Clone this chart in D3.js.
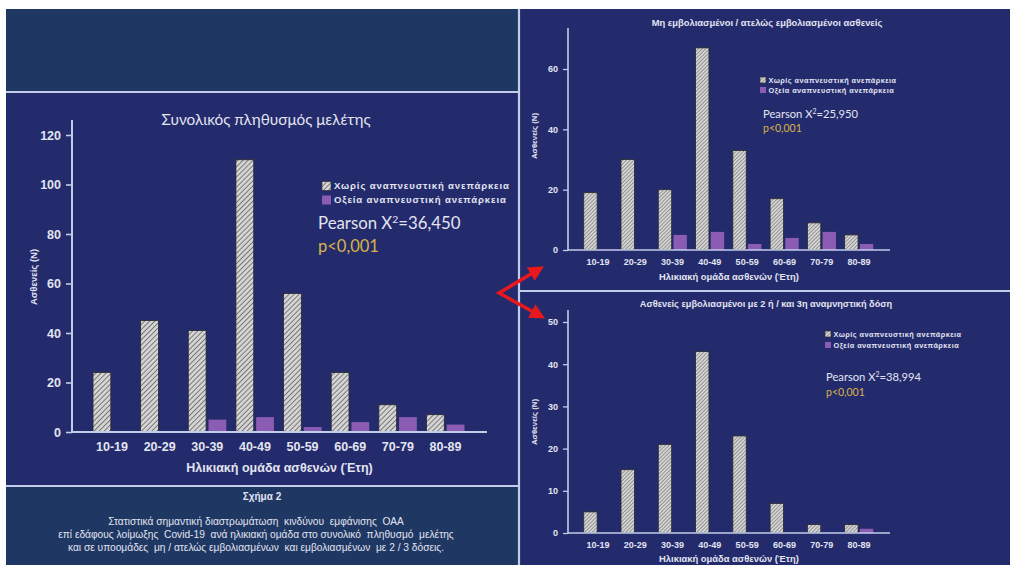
<!DOCTYPE html>
<html>
<head>
<meta charset="utf-8">
<script src="https://cdn.jsdelivr.net/npm/d3@7"></script>
<style>
  html, body { margin: 0; padding: 0; background: #ffffff; }
  svg { display: block; }
</style>
</head>
<body>
<svg id="fig" width="1010" height="565"></svg>
<script>
// Age groups (years)
const ageGroups = ["10-19", "20-29", "30-39", "40-49", "50-59", "60-69", "70-79", "80-89"];

// Series names
const seriesNames = ["Χωρίς αναπνευστική ανεπάρκεια", "Οξεία αναπνευστική ανεπάρκεια"];

// Whole study population
const totalNoFailure = [24, 45, 41, 110, 56, 24, 11, 7];
const totalAcuteFailure = [0, 0, 5, 6, 2, 4, 6, 3];
const totalTicks = [0, 20, 40, 60, 80, 100, 120];

// Unvaccinated / incompletely vaccinated patients
const unvaxNoFailure = [19, 30, 20, 67, 33, 17, 9, 5];
const unvaxAcuteFailure = [0, 0, 5, 6, 2, 4, 6, 2];
const unvaxTicks = [0, 20, 40, 60];

// Patients vaccinated with 2 and/or 3rd booster dose
const vaxNoFailure = [5, 15, 21, 43, 23, 7, 2, 2];
const vaxAcuteFailure = [0, 0, 0, 0, 0, 0, 0, 1];
const vaxTicks = [0, 10, 20, 30, 40, 50];

const panelTitles = [
  "Συνολικός πληθυσμός μελέτης",
  "Μη εμβολιασμένοι / ατελώς εμβολιασμένοι ασθενείς",
  "Ασθενείς εμβολιασμένοι με 2 ή / και 3η αναμνηστική δόση"
];
const pearsonValues = ["36,450", "25,950", "38,994"];
const pValueText = "p<0,001";
const xAxisTitle = "Ηλικιακή ομάδα ασθενών (Έτη)";
const yAxisTitle = "Ασθενείς (N)";
const captionTitle = "Σχήμα 2";
const captionLines = [
  "Στατιστικά σημαντική διαστρωμάτωση  κινδύνου  εμφάνισης  ΟΑΑ",
  "επί εδάφους λοίμωξης  Covid-19  ανά ηλικιακή ομάδα στο συνολικό  πληθυσμό  μελέτης",
  "και σε υποομάδες  μη / ατελώς εμβολιασμένων  και εμβολιασμένων  με 2 / 3 δόσεις."
];

const NAVY = "#1f3763";
const INDIGO = "#242b6d";
const RULE = "#c3cdea";
const INK = "#e2e4f0";
const GOLD = "#d8b447";
const PURPLE = "#8a5cb4";
const ARIAL = "'Liberation Sans', Arial, sans-serif";
const CALIBRI = "Lato, 'Open Sans', sans-serif";

const svg = d3.select("#fig");
const defs = svg.append("defs");

// Diagonal hatch fills for the "no failure" bars
function hatch(id, size, stroke) {
  const p = defs.append("pattern")
    .attr("id", id)
    .attr("patternUnits", "userSpaceOnUse")
    .attr("width", size).attr("height", size)
    .attr("patternTransform", "rotate(45)");
  p.append("rect").attr("width", size).attr("height", size).attr("fill", "#d4d4d4");
  p.append("line").attr("x1", 0).attr("y1", 0).attr("x2", 0).attr("y2", size)
    .attr("stroke", "#4a4a4a").attr("stroke-width", stroke);
}
hatch("hatchBig", 3.6, 1.3);
hatch("hatchSmall", 2.6, 0.9);

// Background panels
svg.append("rect").attr("x", 0).attr("y", 0).attr("width", 1010).attr("height", 565).attr("fill", "#ffffff");
svg.append("rect").attr("x", 6).attr("y", 9).attr("width", 513).attr("height", 84).attr("fill", NAVY);
svg.append("rect").attr("x", 6).attr("y", 93).attr("width", 513).attr("height", 393).attr("fill", INDIGO);
svg.append("rect").attr("x", 6).attr("y", 486).attr("width", 513).attr("height", 79).attr("fill", NAVY);
svg.append("rect").attr("x", 519).attr("y", 9).attr("width", 491).attr("height", 556).attr("fill", INDIGO);

const rules = svg.append("g").attr("stroke", RULE).attr("stroke-width", 2.2);
rules.append("line").attr("x1", 6).attr("x2", 519).attr("y1", 92).attr("y2", 92);
rules.append("line").attr("x1", 6).attr("x2", 519).attr("y1", 486).attr("y2", 486);
rules.append("line").attr("x1", 519).attr("x2", 519).attr("y1", 9).attr("y2", 565);
rules.append("line").attr("x1", 519).attr("x2", 1010).attr("y1", 291).attr("y2", 291);

function drawPanel(o) {
  const g = svg.append("g");
  const y = d3.scaleLinear().domain([0, o.ticks[o.ticks.length - 1]]).range([o.y0, o.yTop]);
  const x = d3.scaleBand().domain(ageGroups).range(o.bandRange).paddingInner(0).paddingOuter(0);
  const sub = d3.scaleBand().domain([0, 1]).range([-o.half, o.half]).paddingInner(o.gap);

  // Title
  g.append("text").attr("x", o.titleX).attr("y", o.titleY)
    .attr("text-anchor", "middle").attr("fill", INK)
    .attr("font-family", o.titleFont).attr("font-size", o.titleSize)
    .attr("font-weight", o.titleWeight)
    .text(o.title);

  // Bars
  const rows = ageGroups.map((a, i) => ({ age: a, v: [o.noFail[i], o.acute[i]] }));
  const grp = g.selectAll("g.grp").data(rows).join("g")
    .attr("transform", d => `translate(${x(d.age) + x.bandwidth() / 2},0)`);
  grp.append("rect")
    .attr("x", sub(0)).attr("width", sub.bandwidth())
    .attr("y", d => y(d.v[0])).attr("height", d => y(0) - y(d.v[0]))
    .attr("fill", `url(#${o.hatchId})`)
    .attr("stroke", "#2a2a2a").attr("stroke-width", 0.8);
  grp.filter(d => d.v[1] > 0).append("rect")
    .attr("x", sub(1)).attr("width", sub.bandwidth())
    .attr("y", d => y(d.v[1])).attr("height", d => y(0) - y(d.v[1]))
    .attr("fill", PURPLE);

  // Y axis
  const yAxis = g.append("g").attr("transform", `translate(${o.axisX},0)`)
    .call(d3.axisLeft(y).tickValues(o.ticks).tickSize(o.tickLen).tickPadding(o.tickPad).tickFormat(d3.format("d")));
  yAxis.select(".domain").remove();
  yAxis.selectAll(".tick line").attr("stroke", RULE).attr("stroke-width", o.axisW * 0.8);
  yAxis.selectAll(".tick text").attr("fill", INK)
    .attr("font-family", ARIAL).attr("font-size", o.tickSize).attr("font-weight", "bold");
  g.append("line").attr("x1", o.axisX).attr("x2", o.axisX)
    .attr("y1", o.axisTop).attr("y2", y(0) + o.axisW / 2)
    .attr("stroke", RULE).attr("stroke-width", o.axisW);

  // X axis
  const xAxis = g.append("g").attr("transform", `translate(0,${y(0)})`)
    .call(d3.axisBottom(x).tickSize(0).tickPadding(o.xPad));
  xAxis.select(".domain").remove();
  xAxis.selectAll(".tick text").attr("fill", INK)
    .attr("font-family", ARIAL).attr("font-size", o.tickSize).attr("font-weight", "bold");
  g.append("line").attr("x1", o.axisX).attr("x2", o.axisRight)
    .attr("y1", y(0)).attr("y2", y(0))
    .attr("stroke", RULE).attr("stroke-width", o.axisW);

  // Axis titles
  g.append("text").attr("x", (o.axisX + o.axisRight) / 2).attr("y", o.xTitleY)
    .attr("text-anchor", "middle").attr("fill", INK)
    .attr("font-family", ARIAL).attr("font-size", o.xTitleSize).attr("font-weight", "bold")
    .text(xAxisTitle);
  g.append("text")
    .attr("transform", `translate(${o.yTitleX},${o.yTitleY}) rotate(-90)`)
    .attr("text-anchor", "middle").attr("fill", INK)
    .attr("font-family", ARIAL).attr("font-size", o.yTitleSize).attr("font-weight", "bold")
    .text(yAxisTitle);

  // Legend
  const lg = g.append("g").attr("transform", `translate(${o.legX},${o.legY})`);
  seriesNames.forEach((name, i) => {
    const row = lg.append("g").attr("transform", `translate(0,${i * o.legStep})`);
    row.append("rect").attr("x", 0).attr("y", -o.legBox / 2).attr("width", o.legBox).attr("height", o.legBox)
      .attr("fill", i === 0 ? `url(#${o.hatchId})` : PURPLE)
      .attr("stroke", i === 0 ? "#2a2a2a" : "none").attr("stroke-width", 0.6);
    row.append("text").attr("x", o.legBox + o.legGap).attr("y", 0).attr("dy", "0.35em")
      .attr("fill", INK).attr("font-family", ARIAL).attr("font-size", o.legSize)
      .attr("font-weight", "bold").attr("letter-spacing", o.legSpacing)
      .text(name);
  });

  // Chi-square statistic
  const pt = g.append("text").attr("x", o.statX).attr("y", o.statY)
    .attr("fill", INK).attr("font-family", CALIBRI).attr("font-size", o.statSize);
  pt.append("tspan").text("Pearson X");
  pt.append("tspan").attr("font-size", o.statSize * 0.62).attr("dy", -o.statSize * 0.38).text("2");
  pt.append("tspan").attr("dy", o.statSize * 0.38).text("=" + o.pearson);
  g.append("text").attr("x", o.statX).attr("y", o.pY)
    .attr("fill", GOLD).attr("font-family", CALIBRI).attr("font-size", o.pSize)
    .text(pValueText);
}

// Left: whole population
drawPanel({
  title: panelTitles[0], titleX: 266, titleY: 125, titleFont: CALIBRI, titleSize: 15.3, titleWeight: "normal",
  noFail: totalNoFailure, acute: totalAcuteFailure, ticks: totalTicks,
  y0: 432, yTop: 135, axisTop: 120, axisX: 72, axisRight: 487, axisW: 2,
  bandRange: [88.2, 469.3], half: 19, gap: 0.12, hatchId: "hatchBig",
  tickLen: 6, tickPad: 5, tickSize: 12.5, xPad: 10, xTitleY: 472, xTitleSize: 12.5,
  yTitleX: 37, yTitleY: 277, yTitleSize: 9.5,
  legX: 322, legY: 186, legStep: 14, legBox: 9, legGap: 3, legSize: 9.6, legSpacing: 0.85,
  statX: 318, statY: 229, statSize: 16.8, pearson: pearsonValues[0], pY: 252, pSize: 16.5
});

// Top right: unvaccinated / incompletely vaccinated
drawPanel({
  title: panelTitles[1], titleX: 767, titleY: 26, titleFont: ARIAL, titleSize: 9.4, titleWeight: "bold",
  noFail: unvaxNoFailure, acute: unvaxAcuteFailure, ticks: unvaxTicks,
  y0: 250, yTop: 69, axisTop: 28, axisX: 568, axisRight: 890, axisW: 1.6,
  bandRange: [579.4, 877.6], half: 14.3, gap: 0.12, hatchId: "hatchSmall",
  tickLen: 5, tickPad: 5, tickSize: 9, xPad: 9, xTitleY: 280, xTitleSize: 9.4,
  yTitleX: 537, yTitleY: 136, yTitleSize: 7.8,
  legX: 760, legY: 80, legStep: 10, legBox: 6, legGap: 2.5, legSize: 7.3, legSpacing: 0.45,
  statX: 763, statY: 118, statSize: 11.2, pearson: pearsonValues[1], pY: 132, pSize: 10.5
});

// Bottom right: vaccinated with 2 / 3 doses
drawPanel({
  title: panelTitles[2], titleX: 766, titleY: 307, titleFont: ARIAL, titleSize: 9.2, titleWeight: "bold",
  noFail: vaxNoFailure, acute: vaxAcuteFailure, ticks: vaxTicks,
  y0: 533, yTop: 322, axisTop: 310, axisX: 568, axisRight: 890, axisW: 1.6,
  bandRange: [579.4, 877.6], half: 14.3, gap: 0.12, hatchId: "hatchSmall",
  tickLen: 5, tickPad: 5, tickSize: 9, xPad: 9, xTitleY: 562, xTitleSize: 9.4,
  yTitleX: 537, yTitleY: 422, yTitleSize: 7.8,
  legX: 825, legY: 334, legStep: 11, legBox: 6, legGap: 2.5, legSize: 7.3, legSpacing: 0.45,
  statX: 826, statY: 381, statSize: 11.2, pearson: pearsonValues[2], pY: 396, pSize: 10.5
});

// Caption
const cap = svg.append("g").attr("fill", INK).attr("font-family", ARIAL).attr("text-anchor", "middle");
cap.append("text").attr("x", 262).attr("y", 500).attr("font-size", 10).attr("font-weight", "bold").text(captionTitle);
captionLines.forEach((t, i) => {
  cap.append("text").attr("x", 256).attr("y", 525 + i * 12.8).attr("font-size", 10.2).attr("xml:space", "preserve").text(t);
});

// Red pointer from the left panel to the two subgroup panels
defs.append("marker").attr("id", "head")
  .attr("viewBox", "0 0 10 10").attr("refX", 4).attr("refY", 5)
  .attr("markerWidth", 4.4).attr("markerHeight", 4.4).attr("orient", "auto-start-reverse")
  .append("path").attr("d", "M0,0 L10,5 L0,10 Z").attr("fill", "#e8181c");
svg.append("path")
  .attr("d", "M536,271 L499,293 L537,314")
  .attr("fill", "none").attr("stroke", "#e8181c").attr("stroke-width", 3.5)
  .attr("stroke-linejoin", "miter")
  .attr("marker-start", "url(#head)").attr("marker-end", "url(#head)");
</script>
</body>
</html>
